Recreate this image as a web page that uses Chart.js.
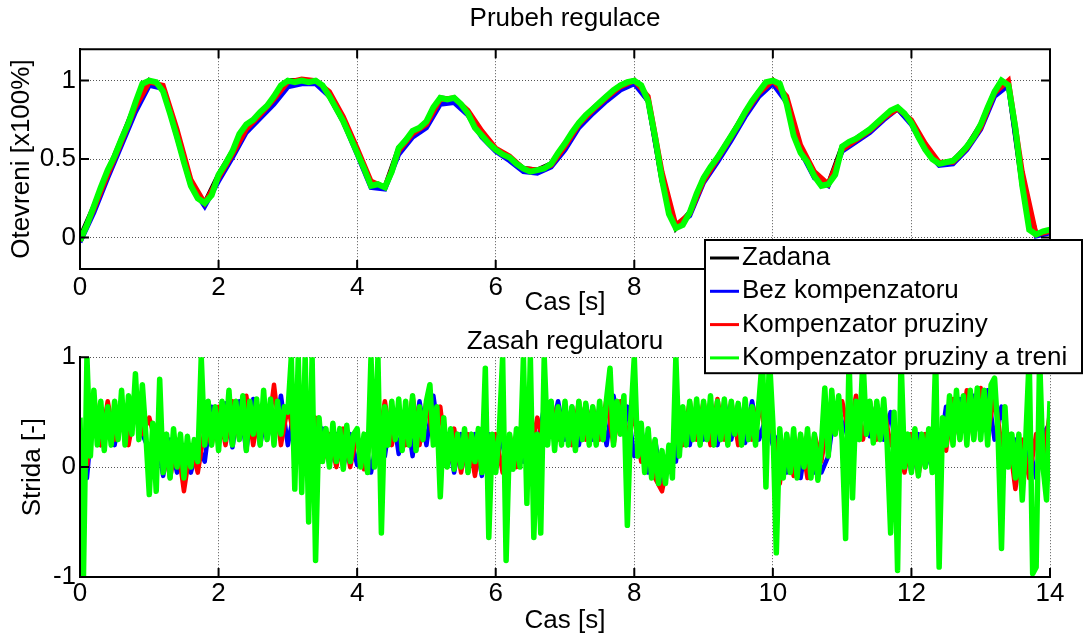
<!DOCTYPE html>
<html>
<head>
<meta charset="utf-8">
<script src="https://cdn.jsdelivr.net/npm/chart.js@4.4.1/dist/chart.umd.min.js"></script>
<style>
  html, body { margin: 0; padding: 0; background: #fff; }
  #wrap { position: relative; width: 1086px; height: 636px; }
  #openChart { position: absolute; left: 0; top: 0; z-index: 2; }
  #dutyChart { position: absolute; left: 0; top: 300px; z-index: 1; }
</style>
</head>
<body>
<div id="wrap">
  <canvas id="openChart" width="1086" height="380"></canvas>
  <canvas id="dutyChart" width="1086" height="336"></canvas>
</div>
<script>
// sample spacing of the read-off values [s]
const stepSetpoint = 0.2;
const stepOpenGreen = 0.1;
const stepDutyGreen = 0.05;
const stepDutyOther = 0.1;

const timeTicks = [0, 2, 4, 6, 8, 10, 12, 14];
const openTicks = [0, 0.5, 1];
const dutyTicks = [-1, 0, 1];

const seriesNames = ['Zadana', 'Bez kompenzatoru', 'Kompenzator pruziny', 'Kompenzator pruziny a treni'];

// Prubeh regulace (every 0.2 s, green every 0.1 s)
const openZadana = [
  0, 0.2, 0.42, 0.63, 0.85, 1.0, 0.95, 0.65, 0.34, 0.22,
  0.4, 0.55, 0.71, 0.79, 0.89, 1.0, 1.0, 1.0, 0.9, 0.74,
  0.54, 0.34, 0.32, 0.57, 0.67, 0.73, 0.89, 0.88, 0.79, 0.65,
  0.56, 0.51, 0.44, 0.43, 0.47, 0.6, 0.73, 0.82, 0.9, 0.97,
  1.0, 0.87, 0.36, 0.06, 0.16, 0.38, 0.51, 0.65, 0.8, 0.93,
  1.0, 0.87, 0.56, 0.39, 0.34, 0.58, 0.63, 0.69, 0.77, 0.82,
  0.73, 0.57, 0.47, 0.49, 0.58, 0.72, 0.93, 0.97, 0.33, 0.02,
  0.05
];
const openBez = [
  -0.03, 0.16, 0.38, 0.59, 0.8, 0.97, 0.95, 0.64, 0.33, 0.2,
  0.36, 0.51, 0.67, 0.76, 0.85, 0.96, 0.98, 0.98, 0.9, 0.74,
  0.53, 0.32, 0.31, 0.53, 0.64, 0.7, 0.85, 0.86, 0.78, 0.64,
  0.55, 0.49, 0.42, 0.41, 0.45, 0.56, 0.7, 0.79, 0.87, 0.94,
  0.98, 0.87, 0.37, 0.07, 0.14, 0.35, 0.48, 0.62, 0.77, 0.9,
  0.98, 0.86, 0.55, 0.38, 0.33, 0.55, 0.61, 0.67, 0.75, 0.82,
  0.72, 0.56, 0.46, 0.47, 0.56, 0.69, 0.9, 0.97, 0.35, 0.01,
  0.03
];
const openPruziny = [
  -0.02, 0.18, 0.4, 0.61, 0.83, 0.99, 0.97, 0.69, 0.37, 0.22,
  0.38, 0.53, 0.69, 0.78, 0.88, 0.99, 1.01, 1.0, 0.93, 0.77,
  0.57, 0.36, 0.32, 0.55, 0.66, 0.72, 0.88, 0.89, 0.81, 0.68,
  0.57, 0.52, 0.44, 0.43, 0.46, 0.58, 0.72, 0.81, 0.89, 0.96,
  1.0, 0.9, 0.42, 0.08, 0.15, 0.36, 0.5, 0.64, 0.79, 0.92,
  1.0, 0.9, 0.59, 0.42, 0.34, 0.56, 0.62, 0.68, 0.76, 0.82,
  0.75, 0.6, 0.48, 0.48, 0.57, 0.7, 0.92, 1.0, 0.42, 0.02,
  0.04
];
const openTreni = [
  -0.02, 0.08, 0.2, 0.32, 0.43, 0.52, 0.63, 0.73, 0.86, 0.98,
  1.0, 0.99, 0.93, 0.79, 0.64, 0.48, 0.33, 0.25, 0.22, 0.27,
  0.4, 0.47, 0.55, 0.66, 0.72, 0.75, 0.8, 0.84, 0.9, 0.97,
  1.0, 0.99, 1.0, 0.99, 1.0, 0.97, 0.9, 0.82, 0.74, 0.64,
  0.54, 0.44, 0.33, 0.34, 0.32, 0.42, 0.57, 0.62, 0.68, 0.7,
  0.74, 0.83, 0.89, 0.88, 0.89, 0.85, 0.79, 0.7, 0.65, 0.6,
  0.56, 0.53, 0.51, 0.47, 0.44, 0.42, 0.43, 0.44, 0.47, 0.54,
  0.6, 0.67, 0.73, 0.78, 0.82, 0.86, 0.9, 0.94, 0.97, 0.99,
  1.0, 0.97, 0.87, 0.64, 0.37, 0.15, 0.06, 0.08, 0.16, 0.28,
  0.38, 0.45, 0.51, 0.58, 0.65, 0.72, 0.8, 0.87, 0.93, 0.99,
  1.0, 0.98, 0.85, 0.65, 0.54, 0.48, 0.39, 0.33, 0.34, 0.4,
  0.58, 0.61, 0.63, 0.66, 0.69, 0.73, 0.77, 0.81, 0.83, 0.79,
  0.73, 0.64, 0.56, 0.5, 0.47, 0.48, 0.49, 0.53, 0.58, 0.64,
  0.72, 0.83, 0.93, 1.0, 0.97, 0.7, 0.33, 0.05, 0.02, 0.04,
  0.05
];

// Zasah regulatoru (blue/red every 0.1 s, green every 0.05 s)
const dutyBez = [
  0.3, -0.1, 0.6, 0.2, 0.55, 0.2, 0.58, 0.25, 0.6, 0.3,
  0.15, 0.3, -0.08, 0.25, -0.05, 0.2, -0.05, 0.2, 0.05, 0.55,
  0.2, 0.58, 0.18, 0.6, 0.15, 0.62, 0.2, 0.55, 0.25, 0.65,
  0.2, 0.55, 0.15, 0.5, 0.2, 0.35, 0.02, 0.3, 0.0, 0.3,
  0.02, 0.28, -0.05, 0.3, 0.1, 0.55, 0.12, 0.55, 0.1, 0.6,
  0.2, 0.65, 0.2, 0.3, -0.05, 0.3, -0.05, 0.3, -0.08, 0.3,
  0.0, 0.3, -0.03, 0.3, 0.05, 0.4, 0.2, 0.55, 0.3, 0.6,
  0.25, 0.55, 0.2, 0.58, 0.25, 0.55, 0.2, 0.65, 0.3, 0.55,
  0.1, 0.35, -0.05, 0.25, -0.15, 0.15, 0.05, 0.5, 0.2, 0.58,
  0.25, 0.6, 0.2, 0.6, 0.25, 0.58, 0.22, 0.6, 0.25, 0.45,
  0.2, 0.3, -0.05, 0.3, -0.1, 0.3, -0.05, -0.05, 0.1, 0.55,
  0.3, 0.55, 0.25, 0.6, 0.28, 0.58, 0.25, 0.5, 0.05, 0.3,
  -0.05, 0.3, 0.0, 0.2, 0.1, 0.55, 0.25, 0.62, 0.3, 0.65,
  0.3, 0.7, 0.25, 0.55, 0.15, 0.25, -0.15, 0.2, -0.1, 0.3,
  0.4
];
const dutyPruziny = [
  0.25, 0.0, 0.65, 0.2, 0.6, 0.25, 0.62, 0.2, 0.55, 0.3,
  0.45, 0.2, 0.3, -0.1, 0.25, -0.22, 0.2, -0.05, 0.35, 0.2,
  0.55, 0.2, 0.6, 0.25, 0.65, 0.2, 0.55, 0.25, 0.75, 0.2,
  0.55, 0.25, 0.5, 0.2, 0.45, 0.05, 0.3, 0.0, 0.35, 0.0,
  0.3, -0.02, 0.25, 0.2, 0.6, 0.2, 0.55, 0.2, 0.65, 0.2,
  0.6, 0.25, 0.55, 0.0, 0.35, -0.05, 0.3, -0.08, 0.3, 0.0,
  0.3, -0.05, 0.3, 0.0, 0.35, 0.1, 0.45, 0.2, 0.6, 0.25,
  0.55, 0.2, 0.6, 0.25, 0.55, 0.25, 0.62, 0.2, 0.6, 0.3,
  0.45, 0.05, 0.3, -0.1, -0.22, 0.1, 0.3, 0.2, 0.6, 0.25,
  0.6, 0.2, 0.62, 0.25, 0.6, 0.2, 0.58, 0.25, 0.6, 0.3,
  0.35, -0.15, 0.3, -0.08, 0.3, -0.1, 0.3, 0.05, 0.45, 0.3,
  0.6, 0.3, 0.65, 0.25, 0.6, 0.25, 0.55, 0.2, 0.3, -0.05,
  0.3, -0.08, 0.3, 0.0, 0.3, 0.15, 0.62, 0.25, 0.7, 0.25,
  0.72, 0.3, 0.65, 0.2, 0.3, -0.2, 0.25, -0.1, 0.3, 0.05,
  0.5
];
const dutyTreni = [
  0.45, -1.0, 1.0, 0.1, 0.7, 0.2, 0.6, 0.15, 0.55, 0.2, 0.6, 0.25, 0.7, 0.2, 0.65, 0.3, 0.85, 0.25, 0.75, 0.3,
  -0.25, 0.4, -0.22, 0.8, -0.05, 0.3, -0.1, 0.35, 0.0, 0.3, -0.1, 0.28, 0.0, 0.25, 0.05, 1.0, 0.2, 0.6, 0.2, 0.55,
  0.15, 0.6, 0.25, 0.7, 0.2, 0.6, 0.25, 0.65, 0.15, 0.6, 0.3, 0.62, 0.2, 0.7, 0.25, 0.62, 0.2, 0.6, 0.3, 0.55,
  0.5, 1.0, -0.2, 1.0, -0.23, 1.0, -0.5, 1.0, -0.85, 0.45, 0.05, 0.35, 0.0, 0.4, 0.05, 0.35, -0.02, 0.38, 0.05, 0.3,
  0.35, 0.0, 0.3, -0.05, 1.0, 0.0, 1.0, -0.6, 0.55, 0.2, 0.6, 0.25, 0.62, 0.15, 0.6, 0.2, 0.65, 0.15, 0.55, 0.25,
  0.6, 0.75, 0.2, 0.55, -0.27, 0.45, 0.0, 0.35, -0.02, 0.3, 0.0, 0.35, -0.05, 0.3, 0.05, 0.35, -0.05, 0.9, -0.64, 0.3,
  -0.05, 0.3, 1.0, -0.85, 0.3, -0.02, 0.35, 0.0, 1.0, -0.33, 1.0, -0.64, 0.3, -0.6, 1.0, 0.2, 0.6, 0.15, 0.55, 0.2,
  0.6, 0.2, 0.55, 0.15, 0.6, 0.25, 0.58, 0.2, 0.55, 0.2, 0.6, 0.25, 0.62, 0.9, 0.2, 0.6, 0.3, 0.65, -0.53, 0.45,
  1.0, 0.1, 0.4, -0.05, 0.35, -0.1, 0.25, -0.15, 0.15, -0.15, 0.2, -0.1, 1.0, 0.1, 0.55, 0.2, 0.6, 0.25, 0.62, 0.2,
  0.6, 0.25, 0.65, 0.2, 0.6, 0.25, 0.62, 0.2, 0.6, 0.3, 0.58, 0.2, 0.62, 0.25, 0.55, 0.2, 0.6, 1.0, -0.18, 1.0,
  0.4, -0.78, 0.35, -0.1, 0.3, -0.05, 0.35, -0.1, 0.3, 0.0, 0.35, -0.1, 0.3, -0.12, 0.2, 0.72, 0.1, 0.7, 0.3, 0.65,
  0.25, -0.65, 1.0, -0.28, 0.6, 0.25, 1.0, 0.3, 0.6, 0.22, 0.6, 0.25, 0.62, 0.2, -0.6, 0.5, -0.94, 1.0, 0.0, 0.3,
  -0.05, 0.35, -0.08, 0.3, 0.0, 0.35, -0.05, 1.0, -0.91, 0.45, 0.2, 0.65, 0.2, 0.7, 0.25, 0.65, 0.2, 0.7, 0.25, 0.72,
  0.25, 0.7, 0.2, 0.75, 0.81, 0.3, -0.74, 0.55, 0.0, 0.3, -0.1, 0.3, -0.3, 0.25, 1.0, -0.97, -0.91, 1.0, 0.0, -0.3,
  0.6
];

const colors = ['#000000', '#0000ff', '#ff0000', '#00ff00'];

function toPoints(step, values) {
  return values.map((v, i) => ({ x: Math.round(i * step * 100) / 100, y: v }));
}

Chart.defaults.font.family = '"Liberation Sans", Arial, Helvetica, sans-serif';
Chart.defaults.font.size = 26;
Chart.defaults.color = '#000';

// inward tick marks and axis box like the matlab figure
const framePlugin = {
  id: 'frame',
  afterDatasetsDraw(chart, args, opts) {
    const { ctx, chartArea: a, scales: { x, y } } = chart;
    ctx.save();
    ctx.strokeStyle = '#000';
    ctx.lineWidth = 2;
    ctx.beginPath();
    x.ticks.forEach(t => {
      const px = x.getPixelForValue(t.value);
      ctx.moveTo(px, a.bottom); ctx.lineTo(px, a.bottom - 9);
      if (opts.box) { ctx.moveTo(px, a.top); ctx.lineTo(px, a.top + 9); }
    });
    y.ticks.forEach(t => {
      const py = y.getPixelForValue(t.value);
      ctx.moveTo(a.left, py); ctx.lineTo(a.left + 9, py);
      if (opts.box) { ctx.moveTo(a.right, py); ctx.lineTo(a.right - 9, py); }
    });
    if (opts.box) {
      ctx.moveTo(a.left, a.bottom); ctx.lineTo(a.left, a.top);
      ctx.lineTo(a.right, a.top); ctx.lineTo(a.right, a.bottom);
    } else {
      ctx.moveTo(a.left, a.top); ctx.lineTo(a.left, a.bottom);
    }
    ctx.moveTo(a.left, a.bottom); ctx.lineTo(a.right, a.bottom);
    ctx.stroke();
    ctx.restore();
  }
};

// boxed legend overlapping both axes
const boxLegend = {
  id: 'boxLegend',
  afterDraw(chart, args, opts) {
    if (!opts.show) return;
    const { ctx, chartArea: a } = chart;
    const left = a.right - 345, top = a.bottom - 29, width = 377, rowH = 33.3;
    const items = chart.data.datasets;
    ctx.save();
    ctx.fillStyle = '#fff';
    ctx.fillRect(left, top, width, rowH * items.length);
    ctx.strokeStyle = '#000';
    ctx.lineWidth = 2;
    ctx.strokeRect(left, top, width, rowH * items.length);
    ctx.font = '26px "Liberation Sans", Arial, sans-serif';
    ctx.textBaseline = 'middle';
    items.forEach((ds, i) => {
      const cy = top + 18 + i * rowH;
      ctx.strokeStyle = ds.borderColor;
      ctx.lineWidth = 3;
      ctx.beginPath();
      ctx.moveTo(left + 5, cy); ctx.lineTo(left + 34, cy);
      ctx.stroke();
      ctx.fillStyle = '#000';
      ctx.fillText(ds.label, left + 37, cy);
    });
    ctx.restore();
  }
};

function makeScales(yMin, yMax, yTicks, yTitle, yTitlePad, xHeight, xTickPad, xTitleLine) {
  const grid = { color: '#555', lineWidth: 1, drawTicks: false };
  const border = { display: true, color: '#000', width: 2, dash: [1, 2] };
  return {
    x: {
      type: 'linear', min: 0, max: 14,
      afterBuildTicks: s => { s.ticks = timeTicks.map(v => ({ value: v })); },
      afterFit: s => { s.height = xHeight; },
      grid, border,
      ticks: { padding: xTickPad, maxRotation: 0, autoSkip: false, callback: v => String(v) },
      title: { display: true, text: 'Cas [s]', font: { size: 26, lineHeight: xTitleLine }, padding: { top: 0, bottom: 1 } }
    },
    y: {
      min: yMin, max: yMax,
      afterBuildTicks: s => { s.ticks = yTicks.map(v => ({ value: v })); },
      afterFit: s => { s.width = 80; },
      grid, border,
      ticks: { padding: 4, callback: v => String(v) },
      title: { display: true, text: yTitle, padding: { top: yTitlePad, bottom: 0 } }
    }
  };
}

new Chart(document.getElementById('openChart').getContext('2d'), {
  type: 'line',
  data: {
    datasets: [
      { label: seriesNames[0], data: toPoints(stepSetpoint, openZadana), borderColor: colors[0], borderWidth: 5, order: 3 },
      { label: seriesNames[1], data: toPoints(stepSetpoint, openBez), borderColor: colors[1], borderWidth: 5, order: 2 },
      { label: seriesNames[2], data: toPoints(stepSetpoint, openPruziny), borderColor: colors[2], borderWidth: 5, order: 1 },
      { label: seriesNames[3], data: toPoints(stepOpenGreen, openTreni), borderColor: colors[3], borderWidth: 6, order: 0 }
    ]
  },
  options: {
    responsive: false,
    animation: false,
    events: [],
    elements: { point: { radius: 0 }, line: { tension: 0 } },
    layout: { padding: { left: 0, right: 36, top: 0, bottom: 61 } },
    scales: makeScales(-0.2, 1.2, openTicks, 'Otevreni [x100%]', 6, 50, 3, 1.2),
    plugins: {
      legend: { display: false },
      tooltip: { enabled: false },
      title: {
        display: true, text: 'Prubeh regulace', fullSize: false,
        font: { size: 26, weight: 'normal' }, padding: { top: 3, bottom: 15 }
      },
      frame: { box: true },
      boxLegend: { show: true }
    }
  },
  plugins: [framePlugin, boxLegend]
});

new Chart(document.getElementById('dutyChart').getContext('2d'), {
  type: 'line',
  data: {
    datasets: [
      { label: seriesNames[1], data: toPoints(stepDutyOther, dutyBez), borderColor: colors[1], borderWidth: 4.5, order: 2 },
      { label: seriesNames[2], data: toPoints(stepDutyOther, dutyPruziny), borderColor: colors[2], borderWidth: 4.5, order: 1 },
      { label: seriesNames[3], data: toPoints(stepDutyGreen, dutyTreni), borderColor: colors[3], borderWidth: 5.5, order: 0 }
    ]
  },
  options: {
    responsive: false,
    animation: false,
    events: [],
    elements: { point: { radius: 0 }, line: { tension: 0, borderJoinStyle: 'round' } },
    layout: { padding: { left: 0, right: 36, top: 0, bottom: 0 } },
    scales: makeScales(-1, 1, dutyTicks, 'Strida [-]', 17, 59, 1, 1.1),
    plugins: {
      legend: { display: false },
      tooltip: { enabled: false },
      title: {
        display: true, text: 'Zasah regulatoru', fullSize: false,
        font: { size: 26, weight: 'normal' }, padding: { top: 26, bottom: 0 }
      },
      frame: { box: false },
      boxLegend: { show: false }
    }
  },
  plugins: [framePlugin, boxLegend]
});
</script>
</body>
</html>
